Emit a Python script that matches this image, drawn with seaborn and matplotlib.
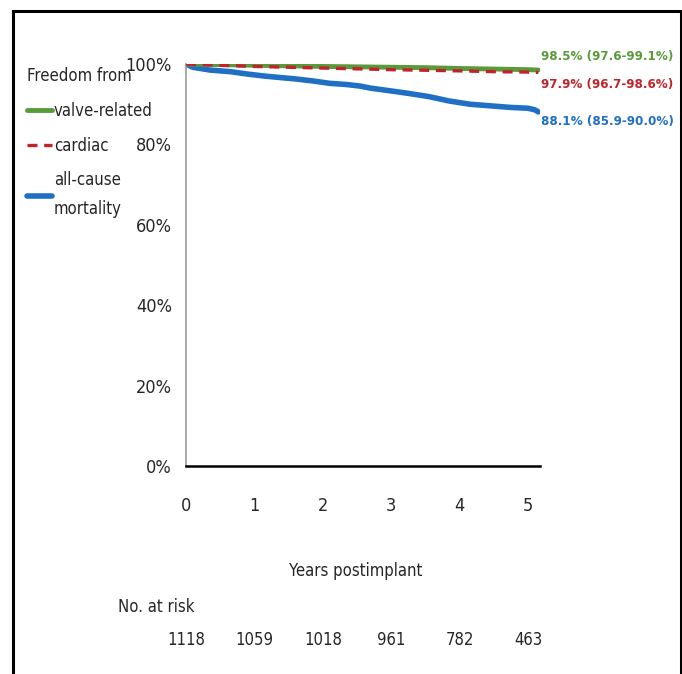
import numpy as np
import pandas as pd
import matplotlib.pyplot as plt
import matplotlib.patches as mpatches
import seaborn as sns

# freedom-from curves (years, %)
years = [0, 0.5, 1, 1.5, 2, 2.5, 3, 3.5, 4, 4.5, 5, 5.15]
valve_related = [100, 99.85, 99.7, 99.55, 99.4, 99.3, 99.2, 99.1, 98.9, 98.75, 98.6, 98.5]
cardiac = [100, 99.7, 99.4, 99.2, 99.0, 98.8, 98.6, 98.45, 98.3, 98.1, 98.0, 97.9]

years_all = [0, 0.1, 0.35, 0.65, 0.9, 1.15, 1.4, 1.6, 1.85, 2.1, 2.35, 2.55,
             2.7, 3.0, 3.25, 3.55, 3.85, 4.15, 4.45, 4.75, 5.0, 5.1, 5.15]
all_cause = [100, 99.2, 98.5, 98.1, 97.5, 97.0, 96.6, 96.3, 95.8, 95.2, 94.9, 94.5,
             94.0, 93.3, 92.7, 91.9, 90.8, 90.0, 89.6, 89.2, 89.0, 88.6, 88.1]

end_labels = ["98.5% (97.6-99.1%)", "97.9% (96.7-98.6%)", "88.1% (85.9-90.0%)"]
year_ticks = [0, 1, 2, 3, 4, 5]
at_risk = [1118, 1059, 1018, 961, 782, 463]

sns.set_style("white")
plt.rcParams['font.family'] = ['DejaVu Sans']
plt.rcParams['font.stretch'] = 'condensed'

green = "#5a9a3a"
red = "#c0232b"
blue = "#1f6fc4"

fig = plt.figure(figsize=(6.82, 6.74), dpi=100)
ax = fig.add_axes([0.2727, 0.3086, 0.5191, 0.5964])

df = pd.DataFrame({"years": years, "valve": valve_related, "cardiac": cardiac})
df_all = pd.DataFrame({"years": years_all, "all": all_cause})

sns.lineplot(data=df_all, x="years", y="all", ax=ax, color=blue, lw=4,
             label="all-cause\nmortality", zorder=2)
sns.lineplot(data=df, x="years", y="valve", ax=ax, color=green, lw=3.5,
             label="valve-related", zorder=3)
sns.lineplot(data=df, x="years", y="cardiac", ax=ax, color=red, lw=2.4,
             label="cardiac", zorder=4)
ax.lines[2].set_dashes([3, 2])

ax.set_xlim(0, 5.175)
ax.set_ylim(0, 100)
ax.set_xticks(year_ticks)
ax.set_yticks([0, 20, 40, 60, 80, 100])
ax.set_yticklabels([f"{v}%" for v in [0, 20, 40, 60, 80, 100]])
ax.set_xlabel("")
ax.set_ylabel("")
for s in ["top", "right"]:
    ax.spines[s].set_visible(False)
ax.spines["left"].set_color("#999999")
ax.spines["left"].set_linewidth(1.2)
ax.spines["bottom"].set_color("black")
ax.spines["bottom"].set_linewidth(1.8)
ax.tick_params(axis="both", direction="out", length=5, width=1, color="#888888",
               labelsize=13, pad=5)
ax.tick_params(axis="x", pad=17)

# labels at the curve ends
finals = [valve_related[-1], cardiac[-1], all_cause[-1]]
offsets = [10, -9, -7]
for lab, val, off, c in zip(end_labels, finals, offsets, [green, red, blue]):
    ax.annotate(lab, xy=(years[-1], val), xytext=(2, off), textcoords="offset points",
                ha="left", va="center", color=c, fontsize=9.5, fontweight="bold",
                annotation_clip=False)

# legend on the left
handles, labels = ax.get_legend_handles_labels()
order = [1, 2, 0]
ax.get_legend().remove()
leg = fig.legend([handles[i] for i in order], [labels[i] for i in order],
                 loc="upper left", bbox_to_anchor=(0.03, 0.91), frameon=False,
                 title="Freedom from", alignment="left", fontsize=12,
                 title_fontsize=12, handlelength=1.5, handletextpad=0.1,
                 labelspacing=1.0, borderaxespad=0)
leg.get_texts()[2].set_linespacing(1.75)

# axis title and number at risk
ax.text(0.48, -0.26, "Years postimplant", transform=ax.transAxes,
        ha="center", va="center", fontsize=12)
ax.text(-0.192, -0.351, "No. at risk", transform=ax.transAxes,
        ha="left", va="center", fontsize=12)
for t, n in zip(year_ticks, at_risk):
    ax.text(t, -0.433, str(n), transform=ax.get_xaxis_transform(),
            ha="center", va="center", fontsize=12)

# outer frame
fig.patches.append(mpatches.Rectangle((0.019, -0.01), 0.9795, 0.9937,
                                      transform=fig.transFigure, fill=False,
                                      edgecolor="black", lw=2.2))

fig.savefig("out.png", dpi=100)
